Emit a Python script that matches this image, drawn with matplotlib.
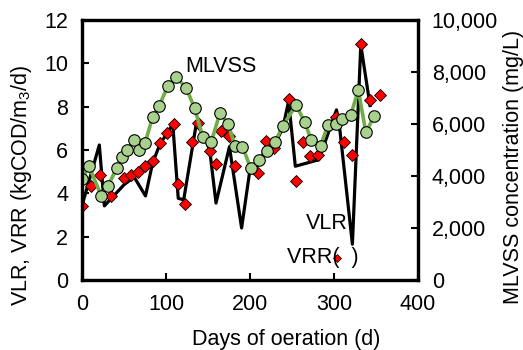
import matplotlib

matplotlib.use("Agg")

import matplotlib.pyplot as plt


# VLR (black line)
VLR_DAYS = [0, 20.5, 26.5, 50, 62, 75.5, 84, 93, 101, 108, 114.5, 121, 136, 146, 152,
            159.5, 175.5, 190, 200, 210, 220, 230, 239, 246, 254, 282, 303, 306, 322, 332, 343]
VLR = [3.45, 6.23, 3.42, 4.4, 4.75, 3.88, 5.4, 6.3, 6.75, 7.2, 3.77, 3.7, 7.2, 6.6, 6.0,
       3.55, 6.15, 2.4, 5.1, 5.3, 6.2, 6.3, 7.0, 8.25, 5.25, 5.55, 7.85, 7.3, 1.65, 10.85, 8.05]

# VRR (red diamonds)
VRR_DAYS = [0, 10, 21, 35, 50, 58, 66, 75, 84, 93, 101, 109, 114, 123, 131, 138, 152, 159,
            166, 175, 182, 209, 219, 229, 246, 255, 263, 272, 281, 302, 312, 322, 332, 343, 355]
VRR = [3.43, 4.35, 4.85, 3.87, 4.7, 4.85, 5.0, 5.27, 5.47, 6.32, 6.78, 7.22, 4.42, 3.51, 6.38,
       7.23, 5.97, 5.35, 6.89, 6.65, 5.26, 4.92, 6.4, 6.08, 8.35, 4.58, 6.38, 5.72, 5.77, 7.5,
       6.38, 5.79, 10.87, 8.3, 8.54]

# MLVSS (green circles, right axis, mg/L)
MLVSS_DAYS = [0, 8, 23, 31, 41, 47, 53, 62, 68, 75, 84, 92, 102, 112, 124, 134, 144, 154, 164,
              174, 182, 191, 201, 211, 220, 230, 239, 255, 265, 273, 284, 293, 302, 310, 320,
              329, 338, 348]
MLVSS = [3880, 4380, 3230, 3620, 4300, 4740, 5000, 5380, 4980, 5270, 6270, 6710, 7460, 7810,
         7380, 6610, 5480, 5320, 6410, 6000, 5170, 5130, 4290, 4620, 4960, 5320, 5920, 6730,
         6080, 5380, 5170, 5960, 6000, 6180, 6330, 7310, 5680, 6310]

X_TICKS = [0, 100, 200, 300, 400]
LEFT_TICKS = [0, 2, 4, 6, 8, 10, 12]
RIGHT_TICKS = [0, 2000, 4000, 6000, 8000, 10000]

GREEN_LINE = "#70ad47"
GREEN_FILL = "#a9d18e"
FONT_SIZE = 15.5

plt.rcParams.update(
    {
        "font.family": ["Liberation Sans", "DejaVu Sans"],
        "font.size": FONT_SIZE,
        "mathtext.fontset": "custom",
        "mathtext.rm": "Liberation Sans",
        "mathtext.it": "Liberation Sans",
    }
)

fig = plt.figure(figsize=(5.23, 3.5), dpi=100)
ax = fig.add_axes((0.157, 0.2, 0.642, 0.743))

ax.plot(VLR_DAYS, VLR, color="black", linewidth=2.3, zorder=2)
ax.plot(VRR_DAYS, VRR, linestyle="none", marker="D", markersize=6, markerfacecolor="#ff0000",
        markeredgecolor="black", markeredgewidth=0.6, zorder=3)

ax.set_xlim(0, 400)
ax.set_ylim(0, 12)
ax.set_xticks(X_TICKS)
ax.set_yticks(LEFT_TICKS)

ax2 = ax.twinx()
ax2.plot(MLVSS_DAYS, MLVSS, color=GREEN_LINE, linewidth=2.6, marker="o", markersize=8.3,
         markerfacecolor=GREEN_FILL, markeredgecolor="black", markeredgewidth=0.8)
ax2.set_ylim(0, 10000)
ax2.set_yticks(RIGHT_TICKS)
ax2.set_yticklabels([f"{v:,}" for v in RIGHT_TICKS])

for a in (ax, ax2):
    for spine in a.spines.values():
        spine.set_linewidth(2.3)
    a.tick_params(direction="in", length=5, width=1.5, pad=10)

# axis titles placed by hand so they sit where the reference has them
fig.text(286 / 523, 10 / 350, "Days of oeration (d)", ha="center", va="center")
fig.text(22 / 523, 1 - 185 / 350, "VLR, VRR (kgCOD/m$_3$/d)", rotation=90,
         ha="center", va="center")
fig.text(513 / 523, 1 - 167 / 350, "MLVSS concentration (mg/L)", rotation=90,
         ha="center", va="center")

ax.text(165, 9.83, "MLVSS", ha="center", va="center")
ax.text(291, 2.63, "VLR", ha="center", va="center")
ax.text(287, 1.06, "VRR(  )", ha="center", va="center")
ax.plot([304], [1.03], linestyle="none", marker="D", markersize=4, markerfacecolor="#ff0000",
        markeredgecolor="black", markeredgewidth=0.5, clip_on=False)

fig.savefig("out.png", dpi=100, facecolor="white")
